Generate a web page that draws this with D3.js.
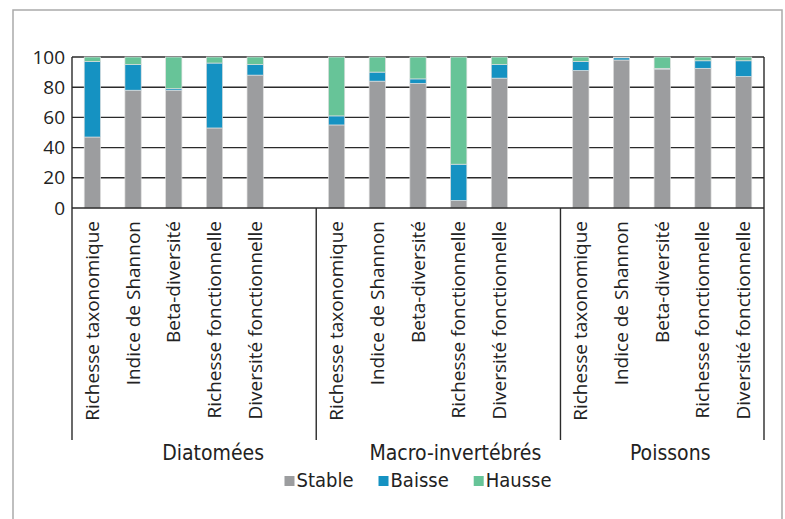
<!DOCTYPE html>
<html>
<head>
<meta charset="utf-8">
<script src="https://cdn.jsdelivr.net/npm/d3@7"></script>
<style>
  body { margin: 0; background: #fff; }
  .tick-label, .cat-label { font-family: "Open Sans", sans-serif; font-size: 19px; fill: #222; }
  .group-label, .legend-label { font-family: "DejaVu Sans Condensed", "DejaVu Sans", sans-serif; font-stretch: condensed; font-size: 20px; fill: #222; }
  .group-label { font-size: 21px; }
</style>
</head>
<body>
<svg id="svg" width="785" height="519"></svg>
<script>
// Data (percent of sites)
const groups = ["Diatomées", "Macro-invertébrés", "Poissons"];
const categories = ["Richesse taxonomique", "Indice de Shannon", "Beta-diversité", "Richesse fonctionnelle", "Diversité fonctionnelle"];
const series = ["Stable", "Baisse", "Hausse"];
const stable = [47, 78, 78, 53, 88,   55, 84, 82.5, 5, 86,   91, 98, 92, 92.5, 87];
const baisse = [50, 17, 1, 43, 7,     6, 6, 3, 24, 9,        6, 1.5, 0.5, 5, 10.5];
const hausse = [3, 5, 21, 4, 5,       39, 10, 14.5, 71, 5,   3, 0.5, 7.5, 2.5, 2.5];
const yTicks = [0, 20, 40, 60, 80, 100];

const colors = { Stable: "#9c9d9f", Baisse: "#1592c2", Hausse: "#67c498" };

const svg = d3.select("#svg");

// outer frame
svg.append("rect")
  .attr("x", 13).attr("y", 10).attr("width", 769).attr("height", 530)
  .attr("fill", "none").attr("stroke", "#aaa").attr("stroke-width", 1.5);

const plotLeft = 72, plotRight = 764, plotTop = 57, plotBottom = 208, lineBottom = 440;

// one slot per bar, plus an empty slot between groups
const slots = [];
groups.forEach((g, gi) => {
  categories.forEach((c, ci) => slots.push(gi + "|" + ci));
  if (gi < groups.length - 1) slots.push(gi + "|gap");
});

// rows for the stack
const rows = [];
groups.forEach((g, gi) => {
  categories.forEach((c, ci) => {
    const i = gi * categories.length + ci;
    rows.push({ key: gi + "|" + ci, group: g, cat: c, Stable: stable[i], Baisse: baisse[i], Hausse: hausse[i] });
  });
});

const x = d3.scaleBand().domain(slots).range([plotLeft, plotRight]).paddingInner(0.6).paddingOuter(0.3);
const y = d3.scaleLinear().domain([0, 100]).range([plotBottom, plotTop]);

// gridlines
svg.append("g").selectAll("line").data(yTicks.filter(d => d > 0)).join("line")
  .attr("x1", plotLeft).attr("x2", plotRight)
  .attr("y1", d => y(d)).attr("y2", d => y(d))
  .attr("stroke", "#2a2a2a").attr("stroke-width", 1.4);

// bars
const stacked = d3.stack().keys(series)(rows);
svg.append("g").selectAll("g").data(stacked).join("g")
  .attr("fill", d => colors[d.key])
  .selectAll("rect").data(d => d).join("rect")
  .attr("x", d => x(d.data.key))
  .attr("width", x.bandwidth())
  .attr("y", d => y(d[1]))
  .attr("height", d => y(d[0]) - y(d[1]))
  .attr("stroke", "#dedede").attr("stroke-width", 0.7);

// axis lines and group dividers
const pad = x.step() * 0.3;
const dividers = [plotLeft, x("1|0") - pad, x("2|0") - pad, plotRight];
svg.append("g").selectAll("line").data(dividers).join("line")
  .attr("x1", d => d).attr("x2", d => d)
  .attr("y1", (d, i) => (i === 0 || i === 3) ? plotTop : plotBottom)
  .attr("y2", lineBottom)
  .attr("stroke", "#2a2a2a").attr("stroke-width", 1.4);
svg.append("line")
  .attr("x1", plotLeft).attr("x2", plotRight).attr("y1", plotBottom).attr("y2", plotBottom)
  .attr("stroke", "#2a2a2a").attr("stroke-width", 1.4);

// y tick labels
svg.append("g").selectAll("text").data(yTicks).join("text")
  .attr("class", "tick-label")
  .attr("x", 65).attr("y", d => y(d))
  .attr("dy", "0.35em")
  .attr("text-anchor", "end")
  .text(d => d);

// category labels (rotated)
svg.append("g").selectAll("text").data(rows).join("text")
  .attr("class", "cat-label")
  .attr("transform", d => `translate(${x(d.key) + x.bandwidth() / 2 + 6.5},221) rotate(-90)`)
  .attr("text-anchor", "end")
  .text(d => d.cat);

// group labels
const groupOffsets = [19, 17, 8];
svg.append("g").selectAll("text").data(groups).join("text")
  .attr("class", "group-label")
  .attr("x", (d, i) => (dividers[i] + dividers[i + 1]) / 2 + groupOffsets[i])
  .attr("y", 460)
  .attr("text-anchor", "middle")
  .text(d => d);

// legend
const legend = svg.append("g");
let lx = 0;
series.forEach(s => {
  const item = legend.append("g").attr("transform", `translate(${lx},0)`);
  item.append("rect").attr("x", 0).attr("y", -11).attr("width", 10).attr("height", 10).attr("fill", colors[s]);
  const t = item.append("text").attr("class", "legend-label").attr("x", 12).attr("y", 0).text(s);
  lx += 12 + t.node().getComputedTextLength() + 25;
});
const legendWidth = lx - 25;
legend.attr("transform", `translate(${(plotLeft + plotRight) / 2 - legendWidth / 2},487)`);
</script>
</body>
</html>
